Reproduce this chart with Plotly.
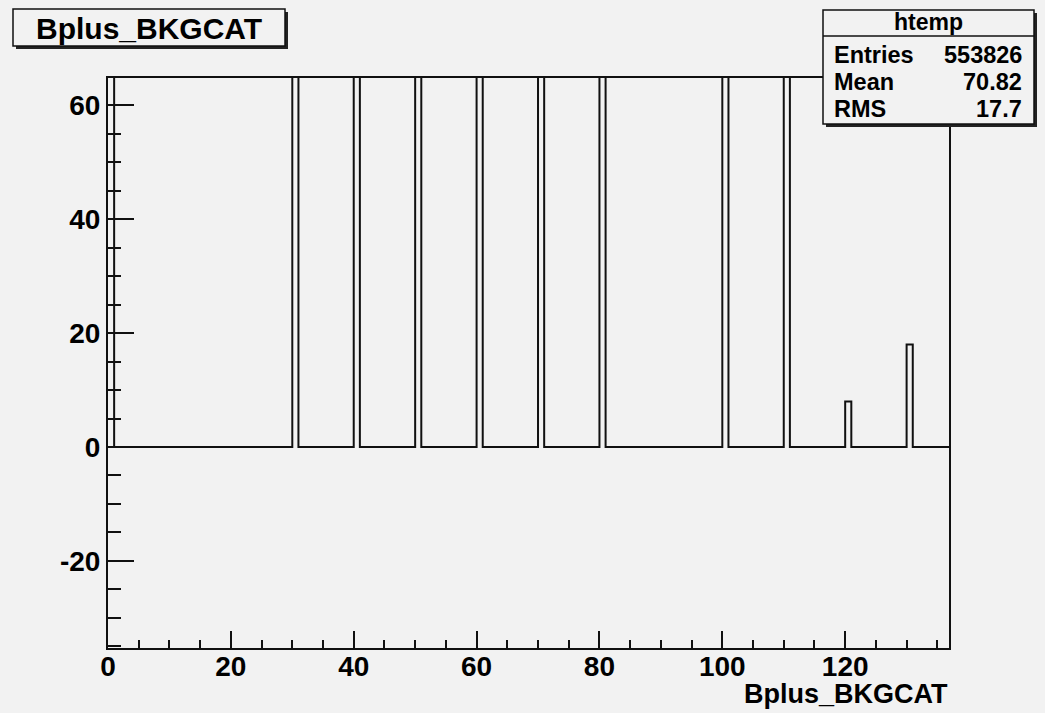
import numpy as np
import plotly.graph_objects as go

# ---- data (bins of width 1) ----
bin_low = [0, 30, 40, 50, 60, 70, 80, 100, 110, 120, 130]
bin_count = [1200, 9000, 15000, 52000, 98000, 150000, 160000, 45000, 23600, 8, 18]
x_max = 137
x_ticks = [0, 20, 40, 60, 80, 100, 120]
x_tick_labels = ["0", "20", "40", "60", "80", "100", "120"]
y_ticks = [-20, 0, 20, 40, 60]
y_tick_labels = ["-20", "0", "20", "40", "60"]
hist_name = "htemp"
var_name = "Bplus_BKGCAT"
stats_labels = ["Entries", "Mean", "RMS"]
stats_values = ["553826", "70.82", "17.7"]

# ---- build step outline from the bins ----
counts_full = np.zeros(x_max)
counts_full[np.array(bin_low)] = bin_count
edges = np.arange(0, x_max + 1)
xs = list(edges)
ys = list(counts_full) + [counts_full[-1]]

BG = "#f2f2f2"
FONT = "Liberation Sans"

fig = go.Figure()
fig.add_trace(go.Scatter(x=xs, y=ys, mode="lines", line=dict(color="#111111", width=2, shape="hv"),
                         hoverinfo="skip", showlegend=False))

# plot-area pixel geometry
L, R, T, B = 108, 949, 78, 648
W, H = R - L, B - T
FW, FH = 1045, 713


def px(X):
    return (X - L) / W


def py(Y):
    return (B - Y) / H


shapes = []
annotations = []


def box(x0, y0, x1, y1, sh=3):
    shapes.append(dict(type="rect", xref="paper", yref="paper", x0=px(x0 + sh), x1=px(x1 + sh),
                       y0=py(y1 + sh), y1=py(y0 + sh), fillcolor="#222222", line=dict(width=0), layer="above"))
    shapes.append(dict(type="rect", xref="paper", yref="paper", x0=px(x0), x1=px(x1),
                       y0=py(y1), y1=py(y0), fillcolor=BG, line=dict(color="#111111", width=1.5), layer="above"))


def text(s, X, Y, size, xanchor="center"):
    annotations.append(dict(text=s, xref="paper", yref="paper", x=px(X), y=py(Y), xanchor=xanchor,
                            yanchor="middle", showarrow=False,
                            font=dict(family=FONT, size=size, color="black", weight="bold")))


# title box
box(13, 9, 285, 46)
text(var_name, 149, 29, 30)

# stats box
box(823, 10, 1034, 124)
shapes.append(dict(type="line", xref="paper", yref="paper", x0=px(823), x1=px(1034), y0=py(36), y1=py(36),
                   line=dict(color="#111111", width=1.5), layer="above"))
text(hist_name, 928, 22, 23)
for i, (lab, val) in enumerate(zip(stats_labels, stats_values)):
    yy = 55 + i * 27
    text(lab, 832, yy, 23.5, "left")
    text(val, 1024, yy, 23.5, "right")

# x-axis title
annotations.append(dict(text=var_name, xref="paper", yref="paper", x=px(950), y=py(694), xanchor="right",
                        yanchor="middle", showarrow=False,
                        font=dict(family=FONT, size=27, color="black", weight="bold")))

axis_common = dict(showgrid=False, zeroline=False, showline=True, linecolor="#111111", linewidth=2,
                   mirror=True, ticks="inside", tickcolor="#111111", tickwidth=2,
                   tickfont=dict(family=FONT, size=28, color="black", weight="bold"))

fig.update_layout(
    width=FW, height=FH,
    margin=dict(l=L, r=FW - R, t=T, b=FH - B, pad=0),
    paper_bgcolor=BG, plot_bgcolor=BG,
    shapes=shapes, annotations=annotations,
    xaxis=dict(range=[0, 136.9], tickvals=x_ticks, ticktext=x_tick_labels, ticklen=17,
               ticklabelstandoff=-8,
               minor=dict(dtick=5, tick0=0, ticks="inside", ticklen=8, tickcolor="#111111", tickwidth=2),
               **axis_common),
    yaxis=dict(range=[-35.3, 64.8], tickvals=y_ticks, ticktext=y_tick_labels, ticklen=26,
               minor=dict(dtick=5, tick0=0, ticks="inside", ticklen=13, tickcolor="#111111", tickwidth=2),
               **axis_common),
)

fig.write_html("out.html")
